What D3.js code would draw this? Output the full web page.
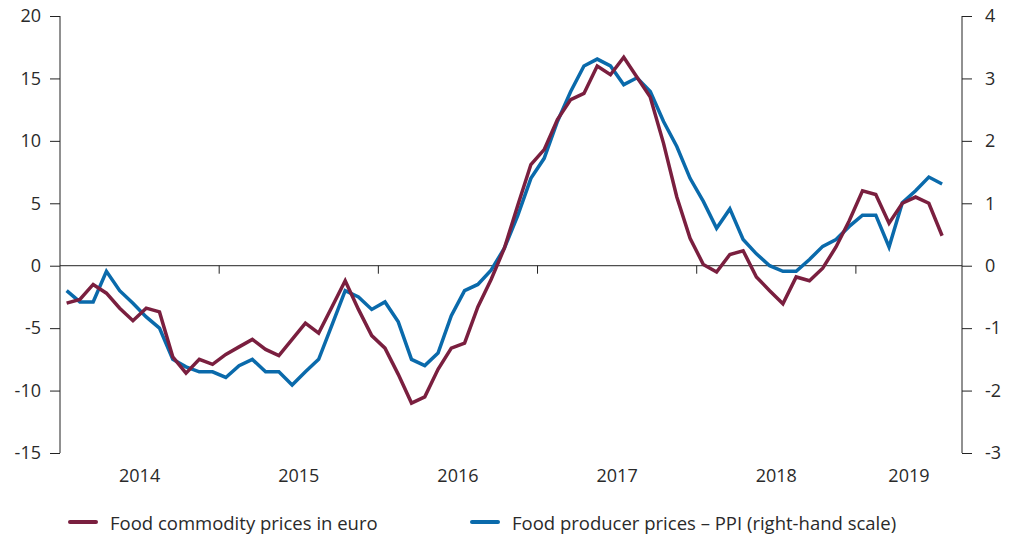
<!DOCTYPE html>
<html lang="en">
<head>
    <meta charset="UTF-8">
    <title>Food prices</title>
    <script src="https://d3js.org/d3.v7.min.js"></script>
    <style>
        body {
            margin: 0;
            padding: 0;
            background-color: white;
        }
        svg {
            display: block;
            font-family: 'Open Sans', 'Noto Sans', sans-serif;
        }
        .tick-label {
            font-size: 18px;
            fill: #2a2a2a;
        }
        .legend-label {
            font-size: 18.5px;
            fill: #2a2a2a;
        }
    </style>
</head>
<body>
    <svg width="1010" height="537"></svg>

    <script>
        // Monthly observations, Jan 2014 - Jul 2019
        const startYear = 2014;
        const monthsShown = 68; // Jan 2014 through Aug 2019

        const commodityEuro = [
            -3.0, -2.7, -1.5, -2.2, -3.4, -4.4, -3.4, -3.7, -7.3, -8.6, -7.5, -7.9,
            -7.1, -6.5, -5.9, -6.7, -7.2, -5.9, -4.6, -5.4, -3.3, -1.2, -3.5, -5.6,
            -6.6, -8.7, -11.0, -10.5, -8.3, -6.6, -6.2, -3.3, -1.1, 1.4, 4.8, 8.1,
            9.3, 11.7, 13.3, 13.8, 16.0, 15.3, 16.7, 15.1, 13.5, 9.8, 5.5, 2.2,
            0.1, -0.5, 0.9, 1.2, -0.9, -2.0, -3.05, -0.9, -1.2, -0.2, 1.5, 3.6,
            6.0, 5.7, 3.4, 5.0, 5.5, 5.0, 2.4
        ];

        const producerPPI = [
            -0.40, -0.58, -0.58, -0.09, -0.40, -0.60, -0.82, -1.00, -1.50, -1.62, -1.70, -1.70,
            -1.79, -1.60, -1.50, -1.70, -1.70, -1.91, -1.70, -1.50, -0.95, -0.40, -0.50, -0.70,
            -0.58, -0.90, -1.50, -1.60, -1.40, -0.80, -0.40, -0.30, -0.07, 0.28, 0.80, 1.40,
            1.72, 2.31, 2.79, 3.20, 3.31, 3.20, 2.90, 3.01, 2.79, 2.31, 1.91, 1.40,
            1.03, 0.60, 0.91, 0.42, 0.19, 0.00, -0.09, -0.09, 0.10, 0.31, 0.42, 0.63,
            0.81, 0.81, 0.30, 1.01, 1.20, 1.42, 1.31
        ];

        const leftTicks = [20, 15, 10, 5, 0, -5, -10, -15];
        const rightTicks = [4, 3, 2, 1, 0, -1, -2, -3];
        const years = [2014, 2015, 2016, 2017, 2018, 2019];

        const seriesNames = [
            "Food commodity prices in euro",
            "Food producer prices \u2013 PPI (right-hand scale)"
        ];
        const colors = ["#7a1f3f", "#0a6aab"];

        const svg = d3.select("svg");

        const plotLeft = 60, plotRight = 962, plotTop = 16, plotBottom = 453;

        const xScale = d3.scaleLinear()
            .domain([0, monthsShown])
            .range([plotLeft, plotRight]);

        const yLeft = d3.scaleLinear()
            .domain([-15, 20])
            .range([plotBottom, plotTop]);

        const yRight = d3.scaleLinear()
            .domain([-3, 4])
            .range([plotBottom, plotTop]);

        // plain hyphen for negatives, like the original
        const plainFormat = function(d) { return String(d); };

        // zero line
        svg.append("line")
            .attr("x1", plotLeft)
            .attr("x2", plotRight)
            .attr("y1", yLeft(0))
            .attr("y2", yLeft(0))
            .attr("stroke", "#222")
            .attr("stroke-width", 1);

        // year ticks on the zero line
        svg.selectAll(".year-tick")
            .data(years.slice(1))
            .enter()
            .append("line")
            .attr("class", "year-tick")
            .attr("x1", function(d) { return xScale((d - startYear) * 12); })
            .attr("x2", function(d) { return xScale((d - startYear) * 12); })
            .attr("y1", yLeft(0))
            .attr("y2", yLeft(0) + 8)
            .attr("stroke", "#222")
            .attr("stroke-width", 1);

        // year labels, centred in the visible part of each year
        svg.selectAll(".year-label")
            .data(years)
            .enter()
            .append("text")
            .attr("class", "tick-label")
            .attr("x", function(d) {
                const a = (d - startYear) * 12;
                const b = Math.min(a + 12, monthsShown);
                return (xScale(a) + xScale(b)) / 2;
            })
            .attr("y", 482)
            .attr("text-anchor", "middle")
            .text(function(d) { return d; });

        // left axis
        const leftAxis = d3.axisLeft(yLeft)
            .tickValues(leftTicks)
            .tickFormat(plainFormat)
            .tickSize(10)
            .tickPadding(9);
        const gl = svg.append("g")
            .attr("transform", "translate(" + plotLeft + ",0)")
            .call(leftAxis);
        gl.select(".domain").attr("stroke", "#222").attr("d", "M0," + plotTop + "V" + plotBottom);
        gl.selectAll(".tick line").attr("stroke", "#222");
        gl.selectAll(".tick text")
            .attr("class", "tick-label")
            .style("font-family", "'Open Sans', 'Noto Sans', sans-serif");

        // right axis
        const rightAxis = d3.axisRight(yRight)
            .tickValues(rightTicks)
            .tickFormat(plainFormat)
            .tickSize(10)
            .tickPadding(13);
        const gr = svg.append("g")
            .attr("transform", "translate(" + plotRight + ",0)")
            .call(rightAxis);
        gr.select(".domain").attr("stroke", "#222").attr("d", "M0," + plotTop + "V" + plotBottom);
        gr.selectAll(".tick line").attr("stroke", "#222");
        gr.selectAll(".tick text")
            .attr("class", "tick-label")
            .style("font-family", "'Open Sans', 'Noto Sans', sans-serif");

        // lines, points at middle of each month
        const lineLeft = d3.line()
            .x(function(d, i) { return xScale(i + 0.5); })
            .y(function(d) { return yLeft(d); });

        const lineRight = d3.line()
            .x(function(d, i) { return xScale(i + 0.5); })
            .y(function(d) { return yRight(d); });

        svg.append("path")
            .datum(producerPPI)
            .attr("d", lineRight)
            .attr("fill", "none")
            .attr("stroke", colors[1])
            .attr("stroke-width", 3.5)
            .attr("stroke-linejoin", "miter");

        svg.append("path")
            .datum(commodityEuro)
            .attr("d", lineLeft)
            .attr("fill", "none")
            .attr("stroke", colors[0])
            .attr("stroke-width", 3.5)
            .attr("stroke-linejoin", "miter");

        // Legend
        const legendX = [70, 472];
        const legendY = 522;
        seriesNames.forEach(function(name, i) {
            svg.append("line")
                .attr("x1", legendX[i])
                .attr("x2", legendX[i] + 26)
                .attr("y1", legendY)
                .attr("y2", legendY)
                .attr("stroke", colors[i])
                .attr("stroke-width", 4)
                .attr("stroke-linecap", "round");

            svg.append("text")
                .attr("class", "legend-label")
                .attr("x", legendX[i] + 40)
                .attr("y", legendY + 8)
                .text(name);
        });
    </script>
</body>
</html>
